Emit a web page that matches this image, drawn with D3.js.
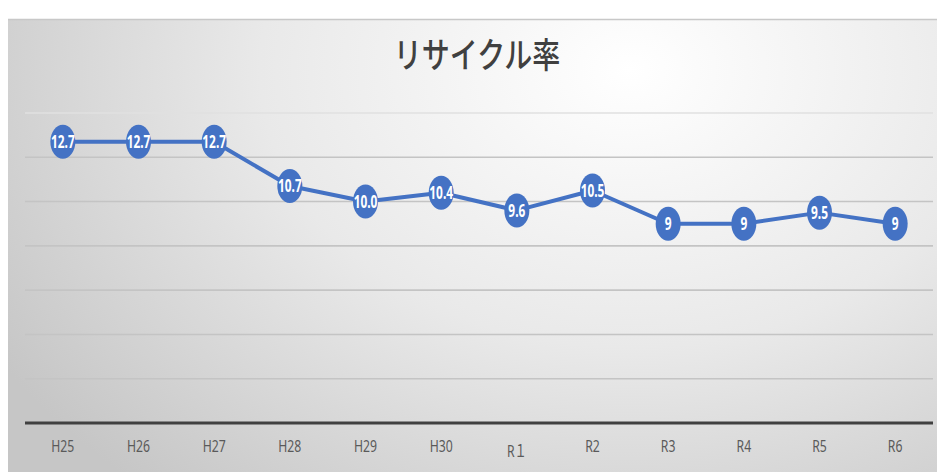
<!DOCTYPE html>
<html lang="ja">
<head>
<meta charset="UTF-8">
<title>リサイクル率</title>
<style>
  body { margin: 0; padding: 0; background: #fff; }
  svg { display: block; }
</style>
</head>
<body>
<svg width="937" height="472"></svg>
<script src="https://cdn.jsdelivr.net/npm/d3@7/dist/d3.min.js"></script>
<script>
// data
const categories = ["H25", "H26", "H27", "H28", "H29", "H30", "R１", "R2", "R3", "R4", "R5", "R6"];
const values = [12.7, 12.7, 12.7, 10.7, 10.0, 10.4, 9.6, 10.5, 9, 9, 9.5, 9];
const valueLabels = ["12.7", "12.7", "12.7", "10.7", "10.0", "10.4", "9.6", "10.5", "9", "9", "9.5", "9"];
const yTicks = [0, 2, 4, 6, 8, 10, 12, 14];
const title = "リサイクル率";

const W = 937, H = 472;
const plot = {left: 25, right: 933, top: 113, bottom: 423};
const squeeze = 0.7; // the source picture is narrowed horizontally

const svg = d3.select("svg");

// background: radial gradient, light at top centre-right
const defs = svg.append("defs");
const grad = defs.append("radialGradient")
  .attr("id", "bg")
  .attr("gradientUnits", "userSpaceOnUse")
  .attr("cx", 630).attr("cy", 70).attr("r", 740)
  .attr("gradientTransform", "translate(630,70) scale(1,0.75) translate(-630,-70)");
grad.append("stop").attr("offset", "0%").attr("stop-color", "#ffffff");
grad.append("stop").attr("offset", "50%").attr("stop-color", "#e9e9e9");
grad.append("stop").attr("offset", "100%").attr("stop-color", "#c6c6c6");

svg.append("rect").attr("width", W).attr("height", H).attr("fill", "#ffffff");
svg.append("rect")
  .attr("x", 8).attr("y", 19).attr("width", W - 8).attr("height", H - 19)
  .attr("fill", "url(#bg)");
svg.append("line")
  .attr("x1", 8).attr("x2", W).attr("y1", 19.5).attr("y2", 19.5)
  .attr("stroke", "#c8c8c8").attr("stroke-width", 1.5);

const x = d3.scaleBand().domain(categories).range([plot.left, plot.right]);
const y = d3.scaleLinear().domain([0, 14]).range([plot.bottom, plot.top]);

// gridlines
svg.append("g")
  .selectAll("line")
  .data(yTicks.filter(d => d > 0))
  .join("line")
  .attr("x1", plot.left).attr("x2", plot.right)
  .attr("y1", d => y(d)).attr("y2", d => y(d))
  .attr("stroke", d => d === 14 ? "#e0e0e0" : "#c4c4c4")
  .attr("stroke-width", 1.6);

// x axis
const xAxis = svg.append("g")
  .attr("transform", `translate(0,${plot.bottom})`)
  .call(d3.axisBottom(x).tickSize(0).tickPadding(0));
xAxis.select(".domain").remove();
xAxis.append("line")
  .attr("x1", plot.left).attr("x2", plot.right)
  .attr("stroke", "#404040").attr("stroke-width", 3);
xAxis.selectAll(".tick text")
  .attr("fill", "#5a5a5a")
  .attr("font-family", "'Noto Sans', 'Noto Sans CJK JP', sans-serif")
  .attr("font-size", 17)
  .attr("dy", null)
  .attr("y", d => d === "R１" ? 34 : 29)
  .attr("transform", `scale(0.72,1)`)
  .attr("x", 0);

// line
const cx = d => x(d) + x.bandwidth() / 2;
const pts = categories.map((c, i) => [cx(c), y(values[i])]);
svg.append("path")
  .datum(pts)
  .attr("fill", "none")
  .attr("stroke", "#4472c4")
  .attr("stroke-width", 4)
  .attr("stroke-linejoin", "round")
  .attr("d", d3.line());

// markers
const mk = svg.append("g")
  .selectAll("g")
  .data(categories)
  .join("g")
  .attr("transform", (c, i) => `translate(${cx(c)},${y(values[i])})`);
mk.append("ellipse")
  .attr("rx", 12.5).attr("ry", 17)
  .attr("fill", "#4472c4");
mk.append("text")
  .attr("transform", `scale(${squeeze},1)`)
  .attr("text-anchor", "middle")
  .attr("dy", "0.36em")
  .attr("fill", "#ffffff")
  .attr("font-family", "'Noto Sans', sans-serif")
  .attr("font-weight", "bold")
  .attr("font-size", 17)
  .text((c, i) => valueLabels[i]);

// title
svg.append("text")
  .attr("transform", `translate(477,68) scale(0.8,1)`)
  .attr("text-anchor", "middle")
  .attr("fill", "#404040")
  .attr("font-family", "'Noto Sans CJK JP', sans-serif")
  .attr("font-weight", 500)
  .attr("font-size", 35)
  .text(title);
</script>
</body>
</html>
